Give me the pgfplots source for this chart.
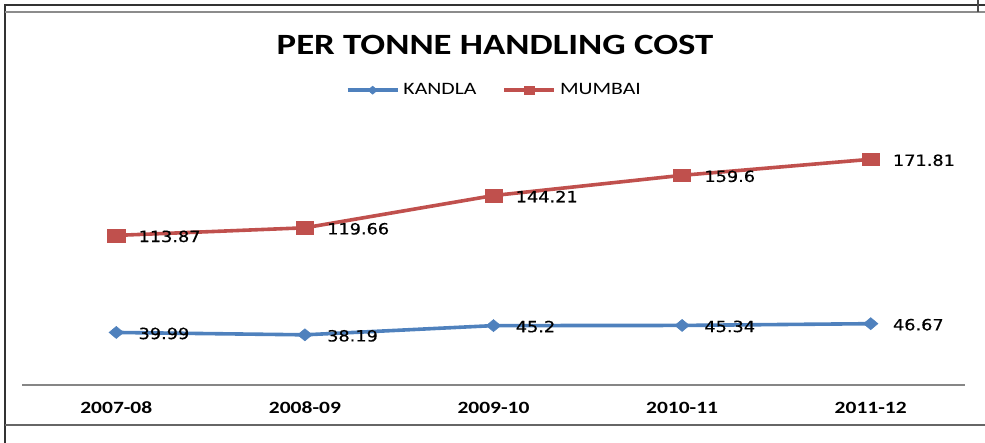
\documentclass[border=0pt]{standalone}
\usepackage{fontspec}
\setmainfont{Carlito}[FakeStretch=1.25]
\newfontfamily\lblfont{DejaVu Sans}[FakeStretch=1.15, FakeBold=0.5]
\usepackage{pgfplots}
\pgfplotsset{compat=1.18}
\definecolor{kblue}{RGB}{79,129,189}
\definecolor{mred}{RGB}{192,80,77}
\definecolor{axgray}{RGB}{134,134,134}

\begin{document}
\begin{tikzpicture}
\useasboundingbox (0,0) rectangle (492.5pt,221.5pt);
% frame
\draw[black!80, line width=0.7pt] (2.5pt,0) -- (2.5pt,219pt) -- (492.5pt,219pt);
\draw[black!45, line width=0.6pt] (2.5pt,215.5pt) -- (492.5pt,215.5pt);
\draw[black!60, line width=0.6pt] (2.5pt,9pt) -- (492.5pt,9pt);
\draw[black!70, line width=0.6pt] (489pt,215.5pt) -- (489pt,221.5pt);
% title
\node[font=\bfseries\fontsize{14.7}{16}\selectfont] at (247.5pt,199pt) {PER TONNE HANDLING COST};
\begin{axis}[
    at={(11pt,29pt)}, anchor=south west,
    scale only axis, width=471.5pt, height=134pt,
    xmin=-0.5, xmax=4.5, ymin=0, ymax=204,
    axis x line*=bottom, axis y line=none, ytick=\empty,
    x axis line style={axgray, line width=0.6pt, -},
    xtick={0,...,4},
    xticklabels={2007-08,2008-09,2009-10,2010-11,2011-12},
    major tick length=0pt,
    xticklabel style={font=\bfseries\fontsize{8.6}{10}\selectfont, yshift=-5pt},
    clip=false,
    legend style={at={(0.502,1.10)}, anchor=center, draw=none, fill=none,
        legend columns=2, font=\fontsize{8.7}{10}\selectfont,
        /tikz/every even column/.append style={column sep=11pt}},
    legend image code/.code={\draw[#1, mark repeat=2, mark phase=2, mark size=2pt]
        plot coordinates {(0pt,0pt) (12.5pt,0pt) (25pt,0pt)};},
    point meta=explicit symbolic,
    nodes near coords={\lblfont\fontsize{7.7}{9}\selectfont\pgfplotspointmeta},
    every node near coord/.append style={anchor=west, inner sep=0pt, xshift=11pt, yshift=-0.5pt, black},
]
\addplot[kblue, line width=1.8pt, mark=diamond*, mark size=3pt,
    mark options={solid, line width=0.3pt, xscale=1.6}] coordinates {
    (0,39.99) [39.99]
    (1,38.19) [38.19]
    (2,45.2) [45.2]
    (3,45.34) [45.34]
    (4,46.67) [46.67]
};
\addlegendentry{KANDLA}
\addplot[mred, line width=1.8pt, mark=square*, mark size=3.2pt,
    mark options={solid, line width=0.3pt, xscale=1.35}] coordinates {
    (0,113.87) [113.87]
    (1,119.66) [119.66]
    (2,144.21) [144.21]
    (3,159.6) [159.6]
    (4,171.81) [171.81]
};
\addlegendentry{MUMBAI}
\end{axis}
\end{tikzpicture}
\end{document}
